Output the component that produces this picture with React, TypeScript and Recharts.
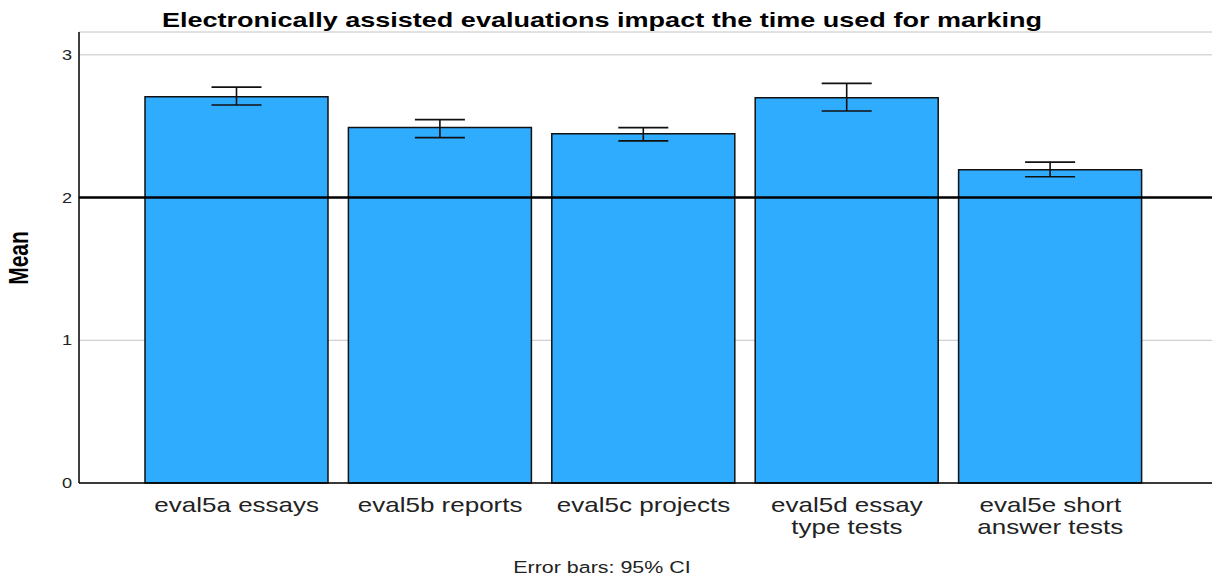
import React from 'react';
import {
  BarChart,
  Bar,
  XAxis,
  YAxis,
  CartesianGrid,
  ReferenceLine,
  ErrorBar,
} from 'recharts';

const categories = [
  'eval5a essays',
  'eval5b reports',
  'eval5c projects',
  'eval5d essay type tests',
  'eval5e short answer tests',
];
const labelLines = [
  ['eval5a essays'],
  ['eval5b reports'],
  ['eval5c projects'],
  ['eval5d essay', 'type tests'],
  ['eval5e short', 'answer tests'],
];
const means = [2.707, 2.49, 2.447, 2.7, 2.195];
const ciLow = [2.648, 2.42, 2.397, 2.606, 2.146];
const ciHigh = [2.774, 2.546, 2.49, 2.8, 2.248];
const yTicks = [0, 1, 2, 3];

const data = categories.map((name, i) => ({
  name,
  mean: means[i],
  ci: [means[i] - ciLow[i], ciHigh[i] - means[i]],
}));

const FONT = '"Liberation Sans", Arial, sans-serif';
const STRETCH = 1.3;

const XTick = (props: any) => {
  const { x, y, payload } = props;
  const idx = categories.indexOf(payload.value);
  const lines = labelLines[idx] || [payload.value];
  return (
    <g transform={`translate(${x},${y}) scale(${STRETCH},1)`}>
      {lines.map((ln, i) => (
        <text
          key={i}
          x={0}
          y={21 + i * 22}
          textAnchor="middle"
          fontSize={20}
          fontFamily={FONT}
          fill="#222"
        >
          {ln}
        </text>
      ))}
    </g>
  );
};

const YTick = (props: any) => {
  const { x, y, payload } = props;
  return (
    <g transform={`translate(${x + 1},${y}) scale(${STRETCH},1)`}>
      <text x={0} y={5} textAnchor="end" fontSize={14} fontFamily={FONT} fill="#222">
        {payload.value}
      </text>
    </g>
  );
};

export default function App() {
  return (
    <div style={{ position: 'absolute', left: 0, top: 0, width: 1214, height: 578, background: '#fff' }}>
      <BarChart
        width={1214}
        height={578}
        data={data}
        margin={{ top: 32, right: 2, left: 0, bottom: 0 }}
        barSize={183}
      >
        <CartesianGrid horizontal vertical={false} stroke="#c4c4c4" strokeWidth={1} />
        <XAxis
          dataKey="name"
          height={95}
          padding={{ left: 56, right: 60 }}
          tickLine={false}
          axisLine={{ stroke: '#000', strokeWidth: 1.5 }}
          tick={<XTick />}
          interval={0}
        />
        <YAxis
          width={79}
          domain={[0, 3.16]}
          ticks={yTicks}
          tickLine={false}
          axisLine={{ stroke: '#000', strokeWidth: 1.5 }}
          tick={<YTick />}
        />
        <Bar dataKey="mean" fill="#30acff" stroke="#111" strokeWidth={1.5} isAnimationActive={false}>
          <ErrorBar dataKey="ci" width={25} stroke="#111" strokeWidth={1.6} isAnimationActive={false} />
        </Bar>
        <ReferenceLine y={2} stroke="#000" strokeWidth={2.5} />
        <text
          transform={`translate(602,27) scale(${STRETCH},1)`}
          textAnchor="middle"
          fontSize={20.8}
          fontWeight="bold"
          fontFamily={FONT}
          fill="#000"
        >
          Electronically assisted evaluations impact the time used for marking
        </text>
        <text
          transform={`translate(28,258) scale(${STRETCH},1) rotate(-90)`}
          textAnchor="middle"
          fontSize={21}
          fontWeight="bold"
          fontFamily={FONT}
          fill="#000"
        >
          Mean
        </text>
        <text
          transform={`translate(602,573) scale(${STRETCH},1)`}
          textAnchor="middle"
          fontSize={16.5}
          fontFamily={FONT}
          fill="#222"
        >
          Error bars: 95% CI
        </text>
      </BarChart>
    </div>
  );
}
